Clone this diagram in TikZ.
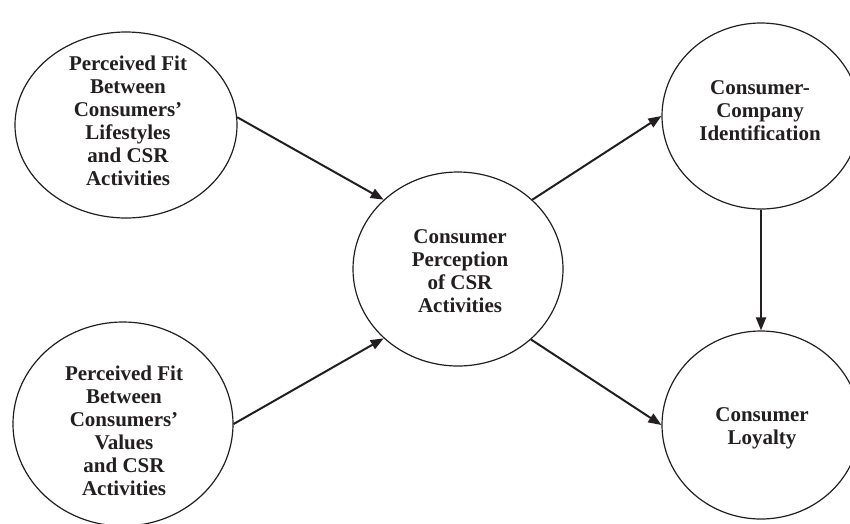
\documentclass[tikz,border=0pt]{standalone}
\usepackage{fontspec}
\setmainfont{Liberation Serif}
\usetikzlibrary{shapes.geometric,arrows.meta}
\definecolor{ink}{RGB}{35,31,32}
\tikzset{
  bubble/.style={draw=ink, line width=1.2pt, ellipse, inner sep=0pt},
  label text/.style={text=ink, align=center, inner sep=0pt,
    font=\fontsize{21}{23}\selectfont\bfseries},
  link/.style={draw=ink, line width=2pt, -{Triangle[length=13pt,width=10pt]}},
}
\begin{document}
\begin{tikzpicture}[x=1pt,y=-1pt]
\useasboundingbox[fill=white] (0,0) rectangle (850,523);
% ellipses
\node[bubble, minimum width=222pt, minimum height=186pt] (tl) at (126,125) {};
\node[bubble, minimum width=220pt, minimum height=204pt] (bl) at (123,424) {};
\node[bubble, minimum width=210pt, minimum height=194pt] (c)  at (458,269) {};
\node[bubble, minimum width=198pt, minimum height=186pt] (tr) at (761,116) {};
\node[bubble, minimum width=198pt, minimum height=188pt] (br) at (761,425) {};
% texts
\node[label text] (tlt) at (128,121) {Perceived Fit\\Between\\Consumers’\\Lifestyles\\and CSR\\Activities};
\node[label text] (blt) at (124,431) {Perceived Fit\\Between\\Consumers’\\Values\\and CSR\\Activities};
\node[label text] (ct)  at (460,271) {Consumer\\Perception\\of CSR\\Activities};
\node[label text] (trt) at (760,111) {Consumer-\\Company\\Identification};
\node[label text] (brt) at (762,428) {Consumer\\Loyalty};
% connectors
\draw[link] (tl.4) -- (c.137);
\draw[link] (bl.east) -- (c.223);
\draw[link] (c.43) -- (tr.west);
\draw[link] (c.316) -- (br.west);
\draw[link] (tr.south) -- (br.north);
\end{tikzpicture}
\end{document}
